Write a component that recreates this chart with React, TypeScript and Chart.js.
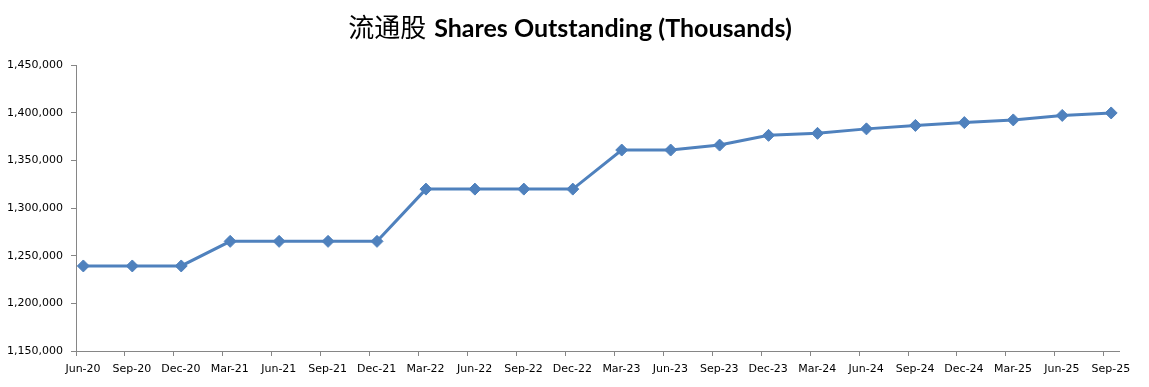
import React, { useEffect, useRef } from "react";
import { Chart, registerables } from "chart.js";

Chart.register(...registerables);

const categories = [
  "Jun-20", "Sep-20", "Dec-20", "Mar-21", "Jun-21", "Sep-21", "Dec-21",
  "Mar-22", "Jun-22", "Sep-22", "Dec-22", "Mar-23", "Jun-23", "Sep-23",
  "Dec-23", "Mar-24", "Jun-24", "Sep-24", "Dec-24", "Mar-25", "Jun-25", "Sep-25",
];

const sharesOutstanding = [
  1239200, 1239200, 1239200, 1265000, 1265000, 1265000, 1265000,
  1319800, 1319800, 1319800, 1319800, 1360800, 1360800, 1366000,
  1376200, 1378300, 1383000, 1386600, 1389600, 1392400, 1397100, 1399700,
];

const yMin = 1150000;
const yMax = 1450000;
const yStep = 50000;

const titleChinese = "流通股";
const titleEnglish = "Shares Outstanding (Thousands)";

const TICK_SHIFT = 0.15;

const titlePlugin = {
  id: "twoPartTitle",
  afterDraw(chart: any) {
    const ctx = chart.ctx;
    ctx.save();
    const cnFont = "400 26px 'Noto Sans CJK SC', sans-serif";
    const enFont = "bold 25px 'Lato', 'Liberation Sans', sans-serif";
    const gap = 8;
    ctx.font = cnFont;
    const wCn = ctx.measureText(titleChinese).width;
    ctx.font = enFont;
    const wEn = ctx.measureText(titleEnglish).width;
    const total = wCn + gap + wEn;
    const centerX = 570;
    const baseline = 37;
    let x = centerX - total / 2;
    ctx.fillStyle = "#000";
    ctx.textAlign = "left";
    ctx.textBaseline = "alphabetic";
    ctx.font = cnFont;
    ctx.fillText(titleChinese, x, baseline);
    x += wCn + gap;
    ctx.font = enFont;
    ctx.fillText(titleEnglish, x, baseline);
    ctx.restore();
  },
};

export default function App() {
  const ref = useRef<HTMLCanvasElement | null>(null);

  useEffect(() => {
    document.body.style.margin = "0";
    const canvas = ref.current;
    if (!canvas) return;
    const color = "#4F81BD";
    const axisColor = "#868686";
    const font = { family: "'DejaVu Sans', sans-serif", size: 11 };
    const chart = new Chart(canvas, {
      type: "line",
      data: {
        datasets: [
          {
            label: "Shares Outstanding",
            data: sharesOutstanding.map((v, i) => ({ x: i, y: v })),
            borderColor: color,
            backgroundColor: color,
            borderWidth: 3,
            pointStyle: "rectRot",
            pointRadius: 6,
            pointBorderWidth: 1,
            tension: 0,
          },
        ],
      },
      plugins: [titlePlugin],
      options: {
        animation: false,
        responsive: false,
        maintainAspectRatio: false,
        layout: { padding: { left: 0, right: 30, top: 65, bottom: 0 } },
        plugins: {
          legend: { display: false },
          tooltip: { enabled: false },
          title: { display: false },
        },
        scales: {
          x: {
            type: "linear",
            min: -TICK_SHIFT,
            max: 21.16,
            afterBuildTicks: (scale: any) => {
              scale.ticks = categories.map((_, i) => ({ value: i - TICK_SHIFT }));
            },
            afterFit: (scale: any) => {
              scale.height = 36;
            },
            ticks: {
              callback: (value: any) => categories[Math.round(Number(value) + TICK_SHIFT)] ?? "",
              color: "#000",
              font,
              padding: 7,
              maxRotation: 0,
              autoSkip: false,
              labelOffset: 7,
            },
            grid: {
              display: true,
              drawOnChartArea: false,
              drawTicks: true,
              tickLength: 5,
              color: axisColor,
            },
            border: { display: true, color: axisColor, width: 1 },
          },
          y: {
            min: yMin,
            max: yMax,
            afterFit: (scale: any) => {
              scale.width = 76;
            },
            ticks: {
              stepSize: yStep,
              color: "#000",
              font,
              padding: 8,
              callback: (value: any) => Number(value).toLocaleString("en-US"),
            },
            grid: {
              display: true,
              drawOnChartArea: false,
              drawTicks: true,
              tickLength: 5,
              color: axisColor,
            },
            border: { display: true, color: axisColor, width: 1 },
          },
        },
      },
    });
    return () => chart.destroy();
  }, []);

  return (
    <div style={{ width: 1149, height: 387, background: "#fff" }}>
      <canvas ref={ref} width={1149} height={387} style={{ display: "block" }} />
    </div>
  );
}
